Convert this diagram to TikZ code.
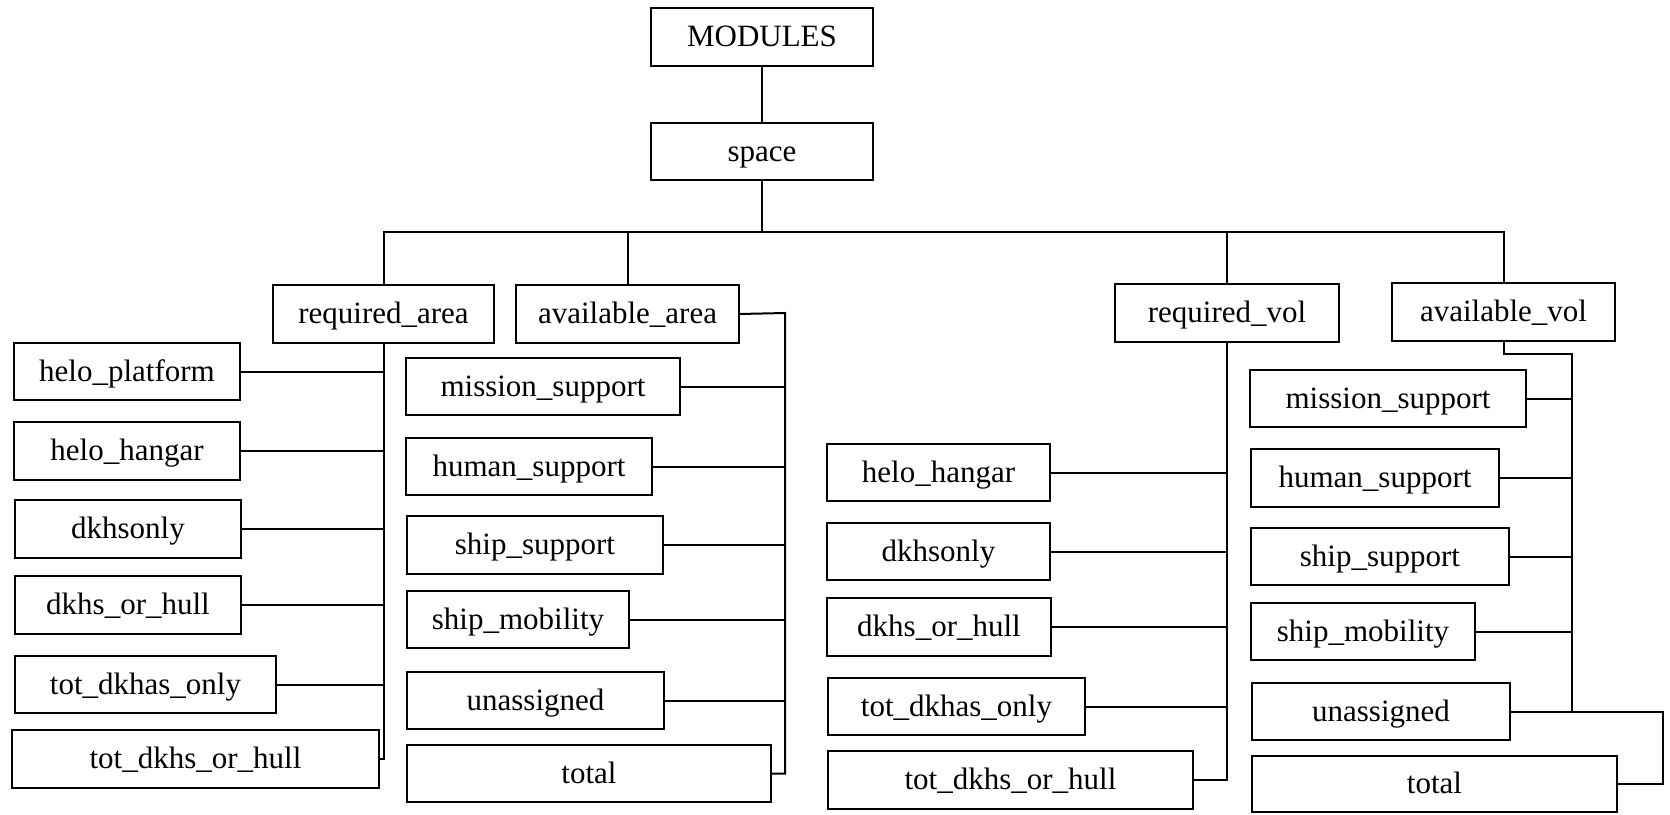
\documentclass[tikz,border=0pt]{standalone}
\usepackage{fontspec}
\setmainfont{Liberation Serif}
\tikzset{
  box/.style={draw, line width=1.2pt, inner sep=0pt, outer sep=0pt, align=center,
    font=\fontsize{15.5pt}{18pt}\selectfont, text height=12.5pt, text depth=3pt},
  conn/.style={draw, line width=1pt}
}
\newcommand\bx[6]{\node[box, minimum width={(#4-#2)*0.5pt}, minimum height={(#5-#3)*0.5pt}] (#1) at ({(#2+#4)/2},{(#3+#5)/2}) {#6};}
\begin{document}
\begin{tikzpicture}[x=0.5pt,y=-0.5pt]
\useasboundingbox (0,0) rectangle (1670,814);
% top
\bx{modules}{651}{8}{873}{66}{MODULES}
\bx{space}{651}{123}{873}{180}{space}
\bx{reqarea}{273}{285}{494}{343}{required\_area}
\bx{avarea}{516}{285}{739}{343}{available\_area}
\bx{reqvol}{1115}{284}{1339}{342}{required\_vol}
\bx{avvol}{1392}{283}{1615}{341}{available\_vol}
% required_area children
\bx{ra1}{14}{343}{240}{400}{helo\_platform}
\bx{ra2}{14}{422}{240}{480}{helo\_hangar}
\bx{ra3}{15}{500}{241}{558}{dkhsonly}
\bx{ra4}{15}{576}{241}{634}{dkhs\_or\_hull}
\bx{ra5}{15}{656}{276}{713}{tot\_dkhas\_only}
\bx{ra6}{12}{730}{379}{788}{tot\_dkhs\_or\_hull}
% available_area children
\bx{aa1}{406}{358}{680}{415}{mission\_support}
\bx{aa2}{406}{438}{652}{495}{human\_support}
\bx{aa3}{407}{516}{663}{574}{ship\_support}
\bx{aa4}{407}{591}{629}{648}{ship\_mobility}
\bx{aa5}{407}{672}{664}{729}{unassigned}
\bx{aa6}{407}{745}{771}{802}{total}
% required_vol children
\bx{rv1}{827}{444}{1050}{501}{helo\_hangar}
\bx{rv2}{827}{523}{1050}{580}{dkhsonly}
\bx{rv3}{827}{598}{1051}{656}{dkhs\_or\_hull}
\bx{rv4}{828}{678}{1085}{735}{tot\_dkhas\_only}
\bx{rv5}{828}{751}{1193}{809}{tot\_dkhs\_or\_hull}
% available_vol children
\bx{av1}{1250}{370}{1526}{427}{mission\_support}
\bx{av2}{1251}{449}{1499}{507}{human\_support}
\bx{av3}{1251}{528}{1509}{585}{ship\_support}
\bx{av4}{1251}{603}{1475}{660}{ship\_mobility}
\bx{av5}{1252}{683}{1510}{740}{unassigned}
\bx{av6}{1252}{756}{1617}{812}{total}
% coordinates
\coordinate (hbus) at (762,232);
\coordinate (abus) at (785,313);
\coordinate (vbus) at (1572,354);
\coordinate (vbus2) at (1663,711);
% top connectors
\path[conn] (modules.south) -- (space.north);
\path[conn] (space.south) -- (hbus);
\path[conn] (reqarea.north) -- (reqarea.north |- hbus) -- (avvol.north |- hbus) -- (avvol.north);
\path[conn] (avarea.north) -- (avarea.north |- hbus);
\path[conn] (reqvol.north) -- (reqvol.north |- hbus);
% required_area bus
\path[conn] (reqarea.south) -- (reqarea.south |- ra6.east) -- (ra6.east);
\foreach \n in {ra1,ra2,ra3,ra4,ra5}{\path[conn] (\n.east) -- (\n.east -| reqarea.south);}
% available_area bus
\path[conn] (avarea.east) -- (abus) -- (abus |- aa6.east) -- (aa6.east);
\foreach \n in {aa1,aa2,aa3,aa4,aa5}{\path[conn] (\n.east) -- (\n.east -| abus);}
% required_vol bus
\path[conn] (reqvol.south) -- (reqvol.south |- rv5.east) -- (rv5.east);
\foreach \n in {rv1,rv2,rv3,rv4}{\path[conn] (\n.east) -- (\n.east -| reqvol.south);}
% available_vol bus
\path[conn] (avvol.south) -- (avvol.south |- vbus) -- (vbus) -- (vbus |- av5.east);
\foreach \n in {av1,av2,av3,av4}{\path[conn] (\n.east) -- (\n.east -| vbus);}
\path[conn] (av5.east) -- (av5.east -| vbus2) -- (vbus2 |- av6.east) -- (av6.east);
\end{tikzpicture}
\end{document}
